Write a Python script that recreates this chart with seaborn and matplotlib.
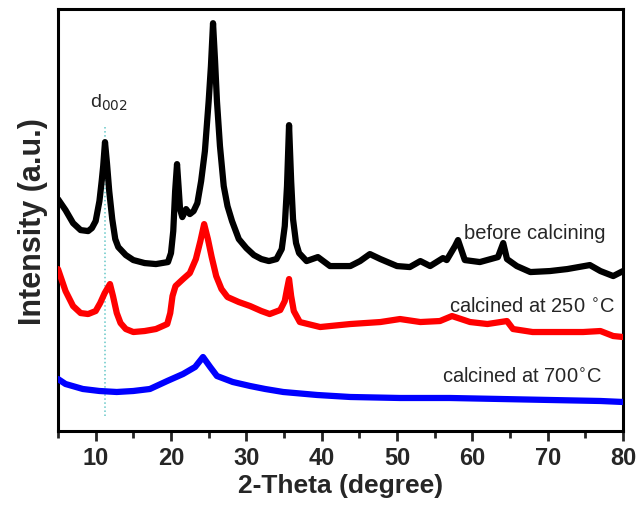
import numpy as np
import pandas as pd
import seaborn as sns
import matplotlib
matplotlib.use("Agg")
import matplotlib.pyplot as plt
from matplotlib.ticker import MultipleLocator

# XRD patterns (2-theta in degree, intensity in a.u.)
theta_before = [5.0, 6.0, 7.0, 8.0, 9.0, 9.5, 10.0, 10.5, 10.8, 11.0, 11.24, 11.5, 11.8, 12.2,
                12.6, 13.0, 14.0, 15.0, 16.5, 18.0, 19.6, 20.0, 20.3, 20.55, 20.8, 21.0, 21.2,
                21.5, 22.0, 22.5, 23.0, 23.5, 24.0, 24.5, 25.0, 25.3, 25.58, 25.85, 26.1,
                26.5, 27.0, 27.5, 28.1, 29.0, 30.0, 31.0, 32.0, 33.0, 34.0, 34.7, 35.1, 35.4,
                35.67, 35.95, 36.2, 36.6, 37.0, 38.0, 39.5, 41.1, 43.8, 45.1, 46.4, 47.8,
                50.0, 51.7, 53.1, 54.4, 56.1, 56.6, 57.7, 58.1, 59.0, 61.0, 63.4, 64.1, 64.6,
                65.9, 67.7, 70.3, 72.6, 75.6, 77.0, 78.7, 80.0]
int_before = [232, 221, 208, 201, 200, 203, 210, 230, 250, 265, 289, 268, 240, 212,
              192, 184, 176, 171, 168, 167, 169, 178, 200, 240, 267, 245, 222,
              214, 222, 217, 220, 228, 250, 280, 330, 365, 408, 370, 330,
              285, 245, 225, 210, 192, 183, 176, 172, 170, 172, 182, 205, 245,
              306, 250, 212, 188, 178, 170, 174, 165, 165, 170, 177, 172,
              165, 164, 170, 165, 173, 171, 185, 191, 171, 169, 174, 188, 172,
              165, 159, 160, 162, 166, 160, 155, 160]

theta_250 = [5.0, 6.0, 7.0, 8.0, 9.0, 10.0, 10.6, 11.2, 11.9, 12.3, 12.8, 13.3, 14.0, 15.0,
             16.5, 18.0, 19.5, 19.9, 20.2, 20.6, 21.6, 22.5, 23.3, 23.9, 24.4, 24.9, 25.4,
             26.0, 26.7, 27.5, 29.0, 30.5, 32.0, 33.1, 34.5, 35.1, 35.4, 35.67, 35.95, 36.3,
             37.1, 39.8, 43.8, 47.8, 50.4, 53.1, 55.7, 57.3, 59.7, 62.0, 64.6, 65.4, 68.0,
             71.2, 74.7, 77.0, 78.7, 80.0]
int_250 = [162, 140, 125, 118, 117, 120, 128, 138, 147, 135, 118, 108, 102, 99,
           100, 102, 107, 118, 135, 145, 152, 158, 172, 190, 207, 192, 174,
           155, 142, 134, 129, 125, 120, 117, 121, 130, 142, 152, 135, 120,
           109, 104, 107, 109, 112, 109, 110, 115, 109, 107, 110, 102, 99,
           99, 99, 100, 95, 94]

theta_700 = [5.0, 6.0, 8.3, 10.5, 12.8, 15.0, 17.2, 19.5, 21.6, 23.2, 24.25, 25.2, 26.1,
             28.2, 30.5, 32.5, 34.9, 39.4, 43.8, 50.4, 57.0, 63.7, 70.3, 77.0, 80.0]
int_700 = [52, 47, 42, 40, 39, 40, 42, 50, 57, 64, 74, 64, 55,
           49, 45, 42, 39, 36, 34, 33, 33, 32, 31, 30, 29]

d002_pos = 11.2

sns.set_theme(style="white")
plt.rcParams['font.family'] = ['Liberation Sans', 'DejaVu Sans']

fig = plt.figure(figsize=(6.38, 5.10), dpi=100)
ax = fig.add_axes([0.0909, 0.153, 0.8856, 0.827])

# d002 guide line
ax.vlines(d002_pos, 15, 305, colors="#66c8c8", linestyles=":", linewidth=1.1, zorder=1)

for th, it, col in [(theta_before, int_before, "black"),
                    (theta_250, int_250, "#ff0000"),
                    (theta_700, int_700, "#0000ff")]:
    sns.lineplot(x=th, y=it, color=col, linewidth=4.5, ax=ax, zorder=3,
                 solid_joinstyle="round")

ax.text(68.3, 199, "before calcining", fontsize=14.5, ha="center", va="center")
ax.text(68.0, 126, "calcined at 250 $^{\\circ}$C", fontsize=14.5, ha="center", va="center")
ax.text(66.7, 56, "calcined at 700$^{\\circ}$C", fontsize=14.5, ha="center", va="center")
ax.text(11.7, 329, "d$_{002}$", fontsize=14, ha="center", va="center")

ax.set_xlim(5, 80)
ax.set_ylim(0, 422)
ax.xaxis.set_major_locator(MultipleLocator(10))
ax.xaxis.set_minor_locator(MultipleLocator(5))
ax.set_yticks([])
ax.tick_params(axis="x", which="major", direction="out", length=7, width=2,
               labelsize=17, bottom=True, top=False)
ax.tick_params(axis="x", which="minor", direction="out", length=5, width=2,
               bottom=True, top=False)
for lab in ax.get_xticklabels():
    lab.set_fontweight("bold")
for sp in ax.spines.values():
    sp.set_linewidth(2.2)
    sp.set_color("black")

ax.set_xlabel("2-Theta (degree)", fontsize=19, fontweight="bold", labelpad=3)
ax.set_ylabel("Intensity (a.u.)", fontsize=22, fontweight="bold", labelpad=7)

fig.savefig("out.png", dpi=100)
